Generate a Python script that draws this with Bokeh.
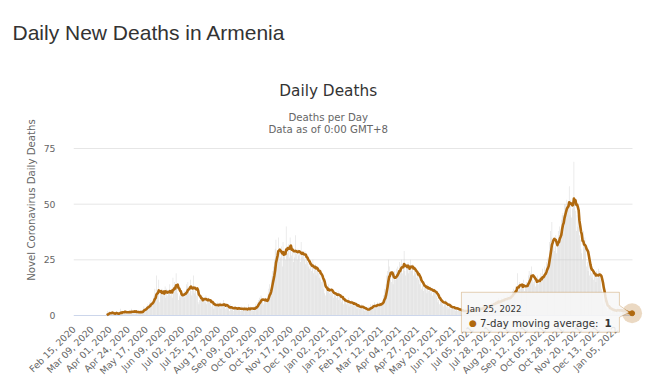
import numpy as np
import pandas as pd
from bokeh.plotting import figure
from bokeh.models import Range1d, FixedTicker, Label, PolyAnnotation
from bokeh.embed import file_html
from bokeh.resources import INLINE

# ---------------- data ----------------
START_DATE = "2020-02-15"
TICK_STEP = 23
SERIES_NAME = "7-day moving average"
TICK_LABELS = [
    "Feb 15, 2020", "Mar 09, 2020", "Apr 01, 2020", "Apr 24, 2020", "May 17, 2020",
    "Jun 09, 2020", "Jul 02, 2020", "Jul 25, 2020", "Aug 17, 2020", "Sep 09, 2020",
    "Oct 02, 2020", "Oct 25, 2020", "Nov 17, 2020", "Dec 10, 2020", "Jan 02, 2021",
    "Jan 25, 2021", "Feb 17, 2021", "Mar 12, 2021", "Apr 04, 2021", "Apr 27, 2021",
    "May 20, 2021", "Jun 12, 2021", "Jul 05, 2021", "Jul 28, 2021", "Aug 20, 2021",
    "Sep 12, 2021", "Oct 05, 2021", "Oct 28, 2021", "Nov 20, 2021", "Dec 13, 2021",
    "Jan 05, 2022",
]
# daily new deaths, one row per 23-day label period
DAILY_DEATHS = [
    0,0,0,0,0,0,0,0,0,0,0,0,0,0,0,0,0,0,0,0,0,0,0,
    0,0,0,0,0,0,0,0,0,0,0,0,0,0,0,0,0,0,0,1,2,1,2,
    1,0,1,2,1,0,1,1,2,0,1,1,0,3,2,1,2,1,1,2,2,1,1,
    2,1,2,1,3,2,1,2,2,1,2,1,2,1,1,2,2,1,2,3,4,3,3,
    4,3,5,4,6,5,7,6,5,8,9,12,8,18,9,7,16,6,11,10,12,9,11,
    10,13,8,12,9,11,10,14,9,12,8,17,11,15,13,19,12,10,7,9,8,11,10,
    9,10,8,11,9,14,13,15,12,10,16,11,9,12,18,10,11,13,9,12,6,5,7,
    8,7,9,6,8,7,6,9,5,7,8,6,7,5,4,6,5,3,6,4,5,4,6,
    4,5,6,3,5,4,7,5,4,3,5,4,3,4,2,5,3,4,3,2,4,3,4,
    3,2,4,3,3,2,4,3,2,3,4,2,3,3,2,5,3,2,4,3,3,2,4,
    3,5,4,6,5,7,8,6,9,8,7,5,6,7,8,6,7,10,12,14,11,16,18,
    20,22,25,30,34,27,29,35,24,28,26,31,22,33,27,29,25,40,30,28,32,26,35,
    29,27,31,24,30,26,36,28,25,30,27,29,24,33,26,28,27,25,29,23,26,24,22,
    24,21,23,20,22,25,19,21,23,18,22,20,19,17,21,16,15,18,12,14,10,9,11,
    13,12,14,10,11,9,12,10,8,11,9,10,8,9,11,7,10,8,6,7,9,5,7,
    6,7,5,6,8,4,6,5,7,5,4,6,5,4,5,3,4,5,3,4,3,5,3,
    4,3,2,3,2,3,2,4,3,5,4,3,5,4,6,3,5,4,6,5,4,6,5,
    5,6,7,9,12,10,14,18,20,25,22,16,19,15,18,14,17,20,16,21,18,22,19,
    24,20,23,25,19,22,29,20,18,23,21,24,19,22,25,20,21,23,18,20,19,21,17,
    18,16,19,14,15,12,13,15,11,14,13,12,10,14,11,12,13,10,12,9,11,12,10,
    11,9,8,6,7,5,8,6,7,5,4,6,5,7,4,5,3,4,5,3,4,3,4,
    3,4,2,3,4,2,3,2,3,2,1,3,2,1,2,3,2,1,2,3,2,1,2,
    3,2,3,2,1,3,2,4,3,2,3,4,2,3,5,3,4,3,5,4,3,5,4,
    5,4,6,5,4,7,5,6,7,5,6,8,5,7,6,8,7,6,9,7,8,6,9,
    8,7,9,8,10,9,11,12,10,11,13,12,19,11,13,15,12,14,13,12,16,11,14,
    12,15,13,18,20,17,19,22,16,14,15,17,13,16,15,18,14,17,16,19,15,21,18,
    17,22,19,24,23,26,25,33,38,35,42,30,34,29,31,36,28,33,38,35,40,37,43,
    45,46,45,50,50,47,52,50,49,58,45,52,44,48,52,69,50,47,38,45,40,42,36,
    34,30,28,25,38,32,35,30,22,24,20,25,18,21,19,17,22,16,19,18,15,20,17,
    21,18,20,16,12,10,6,5,7,4,3,5,2,4,3,2,4,1,3,2,2,3,1,
    3,2,4,1,2,3,2,1,3,2,2,1,2,1,1,1,1,2,0,1,1,
]
Y_TICKS = [0, 25, 50, 75]

# ---------------- derived ----------------
n = len(DAILY_DEATHS)
dates = pd.date_range(START_DATE, periods=n, freq="D")
idx = np.arange(n)
daily = np.array(DAILY_DEATHS, dtype=float)
ma = pd.Series(daily).rolling(7, min_periods=1).mean().to_numpy()
first = int(np.argmax(daily > 0))
ma[:first] = np.nan

# ---------------- layout (page pixels) ----------------
W, H = 658, 391
BL, BR, BT, BB = 73, 12, 62, 54          # frame = [73, 646] x [62, 337]
PLOT_L, PLOT_R = 73.0, 632.0              # x extent of the data area
Y0_PX, YMAX_PX = 315.0, 148.0             # pixel rows of 0 and of Y_MAX
Y_MAX = Y_TICKS[-1]
sx = (PLOT_R - PLOT_L) / n
sy = (Y0_PX - YMAX_PX) / Y_MAX
x_start = -0.5
x_end = -0.5 + (W - BR - BL) / sx
y_top = (Y0_PX - BT) / sy
y_bot = (Y0_PX - (H - BB)) / sy

BROWN = "#b0690f"
FONT = "DejaVu Sans"


def to_data(px, py):
    return (px - PLOT_L) / sx - 0.5, (Y0_PX - py) / sy


p = figure(width=W, height=H, output_backend="svg", toolbar_location=None,
           x_range=Range1d(x_start, x_end), y_range=Range1d(y_bot, y_top),
           min_border_left=BL, min_border_right=BR, min_border_top=BT,
           min_border_bottom=BB)
p.outline_line_color = None
p.background_fill_color = "white"
p.border_fill_color = "white"

# page title (unclipped, in the top panel)
p.title.text = "Daily New Deaths in Armenia"
p.title.align = "left"
p.title.offset = 12 - BL
p.title.standoff = 36.5
p.title.text_font = "Liberation Sans"
p.title.text_font_size = "21px"
p.title.text_font_style = "normal"
p.title.text_color = "#333333"

# grid lines and axis line limited to the data extent
p.xgrid.grid_line_color = None
p.ygrid.grid_line_color = None
grid_y = [t for t in Y_TICKS if t > 0]
p.segment(x0=[-0.5] * len(grid_y), x1=[n - 0.5] * len(grid_y), y0=grid_y, y1=grid_y,
          line_color="#e6e6e6", line_width=1)

p.vbar(x=idx, top=daily, width=0.62, fill_color="#c9c9c9", fill_alpha=0.75,
       line_color=None)
p.segment(x0=[-0.5], x1=[n - 0.5], y0=[0], y1=[0], line_color="#ccd6eb", line_width=1)
p.line(idx, ma, color=BROWN, line_width=2.6, line_join="round")

# y axis
p.yaxis.ticker = FixedTicker(ticks=Y_TICKS)
p.yaxis.bounds = (0, Y_MAX)
p.yaxis.axis_line_color = None
p.yaxis.major_tick_line_color = None
p.yaxis.minor_tick_line_color = None
p.yaxis.major_label_text_font = FONT
p.yaxis.major_label_text_font_size = "9.3px"
p.yaxis.major_label_text_color = "#666666"
p.yaxis.major_label_standoff = 12
p.yaxis.axis_label = "Novel Coronavirus Daily Deaths"
p.yaxis.axis_label_text_font = FONT
p.yaxis.axis_label_text_font_size = "10.2px"
p.yaxis.axis_label_text_font_style = "normal"
p.yaxis.axis_label_text_color = "#666666"
p.yaxis.axis_label_standoff = 4

# x axis (in the bottom panel; labels pulled up under the zero line)
tick_pos = [i * TICK_STEP for i in range(len(TICK_LABELS))]
p.xaxis.ticker = FixedTicker(ticks=tick_pos)
p.xaxis.major_label_overrides = {t: lab for t, lab in zip(tick_pos, TICK_LABELS)}
p.xaxis.major_label_orientation = np.pi / 4
p.xaxis.axis_line_color = None
p.xaxis.major_tick_line_color = None
p.xaxis.minor_tick_line_color = None
p.xaxis.major_tick_in = 0
p.xaxis.major_tick_out = 0
p.xaxis.major_label_text_font = FONT
p.xaxis.major_label_text_font_size = "9.3px"
p.xaxis.major_label_text_color = "#666666"
p.xaxis.major_label_standoff = int(round(Y0_PX + 17 - (H - BB) - 5))


def page_label(text, px, py, size, color, align="left", style="normal", font=FONT,
               level="annotation"):
    x, y = to_data(px, py)
    p.add_layout(Label(x=x, y=y, text=text, text_font=font, text_font_size=size,
                       text_color=color, text_align=align,
                       text_baseline="alphabetic", text_font_style=style,
                       level=level))


page_label("Daily Deaths", 327.7, 90.7, "15.3px", "#333333", align="center")
page_label("Deaths per Day", 327.7, 116.7, "10.2px", "#666666", align="center")
page_label("Data as of 0:00 GMT+8", 327.7, 129.3, "10.2px", "#666666", align="center")

# ---------------- tooltip on the last point ----------------
last_x, last_y = idx[-1], ma[-1]
tip_px = PLOT_L + (last_x + 0.5) * sx
tip_py = Y0_PX - last_y * sy

p.scatter([last_x], [last_y], size=20, fill_color=BROWN, fill_alpha=0.25,
          line_color=None)
p.scatter([last_x], [last_y], size=5, fill_color=BROWN, line_color=BROWN)

bx0, bx1 = tip_px - 170.7, tip_px - 12.7
by0, by1 = tip_py - 21.0, tip_py + 19.0
pts = [(bx0, by0), (bx1, by0), (bx1, tip_py - 8), (tip_px - 3, tip_py - 1),
       (bx1, tip_py + 4), (bx1, by1), (bx0, by1)]
xs, ys = zip(*[to_data(a, b) for a, b in pts])
p.add_layout(PolyAnnotation(xs=list(xs), ys=list(ys), fill_color="#f7f7f7",
                            fill_alpha=0.85, line_color=BROWN, line_width=1,
                            level="overlay"))

date_txt = dates[-1].strftime("%b %d, %Y")
page_label(date_txt, bx0 + 5.7, by0 + 16.5, "8.6px", "#333333", level="overlay")
page_label("\u25CF", bx0 + 7.5, by0 + 31, "9px", BROWN, level="overlay")
page_label(f"{SERIES_NAME}: ", bx0 + 18.5, by0 + 31, "10.2px", "#333333", level="overlay")
page_label(f"{round(last_y):d}", bx0 + 143, by0 + 31, "10.2px", "#333333",
           style="bold", level="overlay")

open("out.html", "w").write(file_html(p, INLINE))
